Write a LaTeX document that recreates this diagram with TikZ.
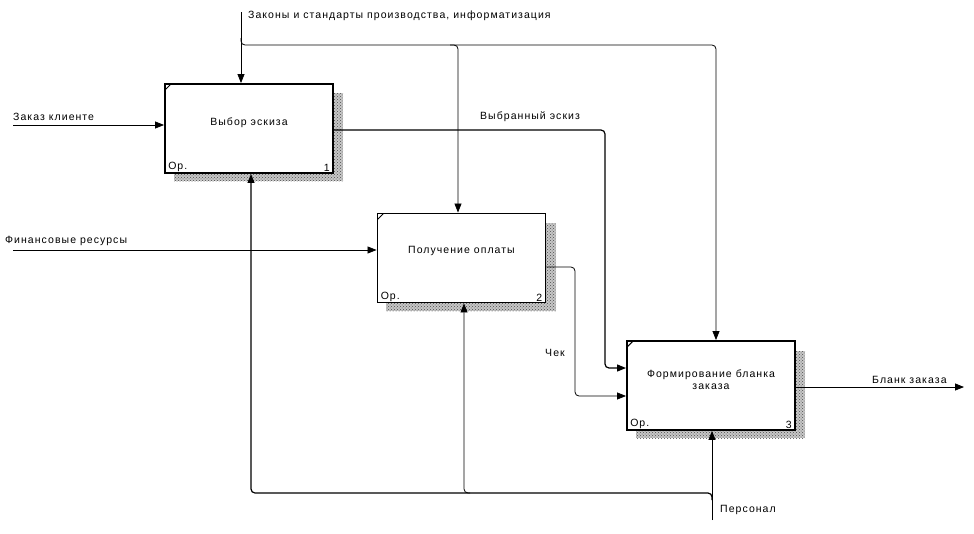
\documentclass[tikz,border=0pt]{standalone}
\usepackage{fontspec}
\setmainfont[LetterSpace=10]{Liberation Sans}
\usetikzlibrary{patterns,arrows.meta,calc}
\begin{document}
\begin{tikzpicture}[x=1pt,y=-1pt,
  box/.style={draw, line width=1.9pt, fill=white, minimum width=168pt, minimum height=89pt, inner sep=0pt},
  shadebase/.style={fill=black!22},
  shade/.style={pattern=crosshatch dots, pattern color=black!70},
  flow/.style={line width=0.8pt, rounded corners=4pt, -{Triangle[length=9pt,width=7pt]}},
  lbl/.style={font=\fontsize{10.5}{12.5}\selectfont, inner sep=0pt},
  tick/.style={line width=0.9pt}]
\useasboundingbox (0,0) rectangle (974,533);
% shadows
\foreach \r in {{(174,93) rectangle (343,181)},{(386,223) rectangle (556,311)},{(636,351) rectangle (805,438)}}{
  \fill[shadebase] \r;
  \fill[shade] \r;
}
% boxes
\node[box] (b1) at (249,128.5) {};
\node[box] (b2) at (461.5,258) {};
\node[box] (b3) at (711,385.5) {};
\foreach \b/\n in {b1/1,b2/2,b3/3}{
  \draw[tick] ($(\b.north west)+(1,7)$) -- ($(\b.north west)+(7,1)$);
  \node[lbl, anchor=south west] at ($(\b.south west)+(4,-2)$) {Ор.};
  \node[lbl, anchor=south east] at ($(\b.south east)+(-4,-2)$) {\n};
}
\node[lbl] (t1) at ($(b1.center)+(0,-6)$) {Выбор эскиза};
\node[lbl] (t2) at ($(b2.center)+(0,-7)$) {Получение оплаты};
\node[lbl, align=center] (t3) at ($(b3.center)+(0,-6)$) {Формирование бланка\\заказа};
% controls
\coordinate (ctop) at (241,12);
\draw[flow] (ctop) -- (241,0 |- b1.north);
\draw[flow] (241,38) |- (716,45) -- (716,0 |- b3.north);
\draw[flow] (450,45) -| (458,0 |- b2.north);
% inputs
\coordinate (in1) at (13,125);
\coordinate (in2) at (13,250);
\draw[flow] (in1) -- (b1.west |- in1);
\draw[flow] (in2) -- (b2.west |- in2);
% outputs
\draw[flow, line width=1.2pt] (b1.east |- 0,130) -- (605,130) -- (605,368) -- (b3.west |- 0,368);
\draw[flow] (b2.east |- 0,267) -- (575,267) -- (575,396) -- (b3.west |- 0,396);
\coordinate (out3) at (964,387);
\draw[flow] (b3.east |- out3) -- (out3);
% mechanisms
\coordinate (mech) at (712,520);
\draw[flow] (mech) -- (712,0 |- b3.south);
\draw[flow, line width=1.2pt] (712,500) |- (251,493) -- (251,0 |- b1.south);
\draw[flow] (470,493) -| (464,0 |- b2.south);
% labels
\node[lbl, anchor=west] at (248,16) {Законы и стандарты производства, информатизация};
\node[lbl, anchor=west] at (480,117) {Выбранный эскиз};
\node[lbl, anchor=west] at (13,117) {Заказ клиенте};
\node[lbl, anchor=west] at (5,241) {Финансовые ресурсы};
\node[lbl, anchor=west] at (545,353) {Чек};
\node[lbl, anchor=west] at (872,380) {Бланк заказа};
\node[lbl, anchor=west] at (720,510) {Персонал};
\end{tikzpicture}
\end{document}
